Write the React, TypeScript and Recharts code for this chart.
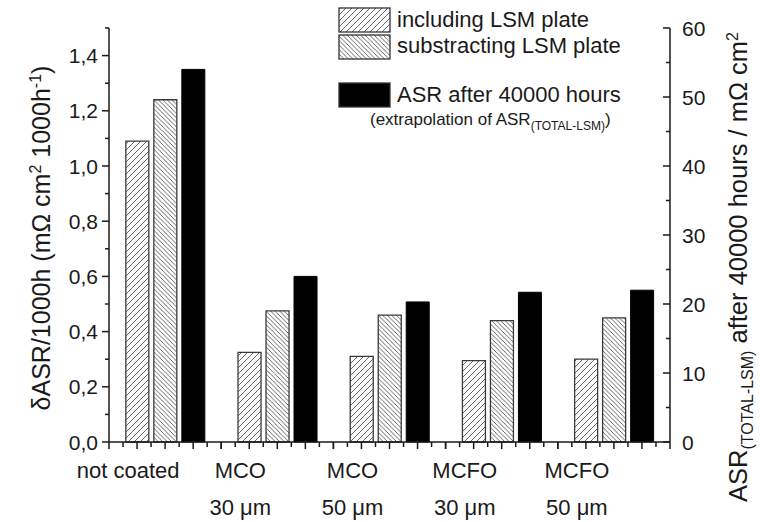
import React from 'react';
import { BarChart, Bar, XAxis, YAxis, Legend } from 'recharts';

const labelLine1 = ['not coated', 'MCO', 'MCO', 'MCFO', 'MCFO'];
const labelLine2 = ['', '30 μm', '50 μm', '30 μm', '50 μm'];
const categories = ['not coated', 'MCO 30 μm', 'MCO 50 μm', 'MCFO 30 μm', 'MCFO 50 μm'];
const includingLSM = [1.09, 0.325, 0.31, 0.295, 0.3];
const substractingLSM = [1.24, 0.475, 0.46, 0.44, 0.45];
const asr40000 = [54.0, 24.0, 20.3, 21.7, 22.0];
const seriesNames = ['including LSM plate', 'substracting LSM plate', 'ASR after 40000 hours'];

const leftTicks = [0, 0.1, 0.2, 0.3, 0.4, 0.5, 0.6, 0.7, 0.8, 0.9, 1.0, 1.1, 1.2, 1.3, 1.4, 1.5];
const rightTicks = [0, 5, 10, 15, 20, 25, 30, 35, 40, 45, 50, 55, 60];
// sub-divisions of each category band used for x-axis tick marks
const bandSubTicks = [-4, -3, -2, -1, 0, 1, 2, 3, 4];

const data = categories.map((c, i) => ({
  name: c,
  inc: includingLSM[i],
  sub: substractingLSM[i],
  asr: asr40000[i],
}));

const FONT = '"Liberation Sans", Arial, Helvetica, sans-serif';
const INK = '#1a1a1a';

const LeftTick = (props: any) => {
  const { x, y, payload } = props;
  const v = payload.value as number;
  const major = Math.round(v * 10) % 2 === 0;
  const len = major ? 7 : 4;
  return (
    <g>
      <line x1={x} y1={y} x2={x - len} y2={y} stroke={INK} strokeWidth={1.5} />
      {major && (
        <text x={x - 11} y={y} dy="0.36em" textAnchor="end" fontSize={21} fontFamily={FONT} fill={INK}>
          {v.toFixed(1).replace('.', ',')}
        </text>
      )}
    </g>
  );
};

const RightTick = (props: any) => {
  const { x, y, payload } = props;
  const v = payload.value as number;
  const major = v % 10 === 0;
  const len = major ? 7 : 4;
  return (
    <g>
      <line x1={x} y1={y} x2={x - len} y2={y} stroke={INK} strokeWidth={1.5} />
      {major && (
        <text x={x + 12} y={y} dy="0.36em" textAnchor="start" fontSize={21} fontFamily={FONT} fill={INK}>
          {String(v)}
        </text>
      )}
    </g>
  );
};

const CatTick = (props: any) => {
  const { x, y, index, width, visibleTicksCount } = props;
  const band = width / (visibleTicksCount || 5);
  const step = band / 8;
  const cx = x - 37;
  return (
    <g>
      {bandSubTicks.map((k) => (
        <line
          key={k}
          x1={x + k * step}
          y1={y}
          x2={x + k * step}
          y2={y + (k % 2 === 0 ? 7 : 5)}
          stroke={INK}
          strokeWidth={1.5}
        />
      ))}
      <text x={cx} y={y + 36} textAnchor="middle" fontSize={22} fontFamily={FONT} fill={INK}>
        {labelLine1[index]}
      </text>
      {labelLine2[index] ? (
        <text x={cx} y={y + 73} textAnchor="middle" fontSize={22} fontFamily={FONT} fill={INK}>
          {labelLine2[index]}
        </text>
      ) : null}
    </g>
  );
};

const LeftLabel = () => {
  const cx = 50;
  const cy = 238;
  return (
    <text x={cx} y={cy} transform={`rotate(-90, ${cx}, ${cy})`} textAnchor="middle" fontSize={25} fontFamily={FONT} fill={INK}>
      δASR/1000h (mΩ cm
      <tspan dy={-9} fontSize={16}>2</tspan>
      <tspan dy={9}> 1000h</tspan>
      <tspan dy={-9} fontSize={16}>-1</tspan>
      <tspan dy={9}>)</tspan>
    </text>
  );
};

const RightLabel = () => {
  const cx = 747;
  const cy = 267;
  return (
    <text x={cx} y={cy} transform={`rotate(-90, ${cx}, ${cy})`} textAnchor="middle" fontSize={25.5} fontFamily={FONT} fill={INK}>
      ASR
      <tspan dy={6} fontSize={16}>(TOTAL-LSM)</tspan>
      <tspan dy={-6}> after 40000 hours / mΩ cm</tspan>
      <tspan dy={-9} fontSize={16}>2</tspan>
    </text>
  );
};

const LegendContent = () => {
  const fills = ['url(#hatchFwd)', 'url(#hatchBack)', '#000'];
  const boxY = [8, 35, 83];
  const textY = [27, 53, 102];
  return (
    <svg width={340} height={135} style={{ display: 'block', overflow: 'visible' }}>
      {seriesNames.map((n, i) => (
        <g key={n}>
          <rect x={9} y={boxY[i]} width={51} height={24} fill={fills[i]} stroke="#333" strokeWidth={1.3} />
          <text x={67} y={textY[i]} fontSize={22} fontFamily={FONT} fill={INK}>{n}</text>
        </g>
      ))}
      <text x={40} y={125} fontSize={17} fontFamily={FONT} fill={INK}>
        (extrapolation of ASR
        <tspan dy={5} fontSize={12}>(TOTAL-LSM)</tspan>
        <tspan dy={-5} fontSize={17}>)</tspan>
      </text>
    </svg>
  );
};

export default function App() {
  return (
    <div style={{ position: 'absolute', left: 0, top: 0, width: 760, height: 522, background: '#fff' }}>
      <BarChart
        width={760}
        height={522}
        data={data}
        margin={{ top: 28, right: 0, left: 0, bottom: 79 }}
        barCategoryGap="15%"
        barGap={5}
      >
        <defs>
          <pattern id="hatchFwd" patternUnits="userSpaceOnUse" width={6} height={6}>
            <rect x={0} y={0} width={6} height={6} fill="#fff" />
            <path d="M-1.5,1.5 L1.5,-1.5 M0,6 L6,0 M4.5,7.5 L7.5,4.5" stroke="#555" strokeWidth={0.9} />
          </pattern>
          <pattern id="hatchBack" patternUnits="userSpaceOnUse" width={4.5} height={4.5}>
            <rect x={0} y={0} width={4.5} height={4.5} fill="#fff" />
            <path d="M-1.2,3.3 L1.2,5.7 M0,0 L4.5,4.5 M3.3,-1.2 L5.7,1.2" stroke="#555" strokeWidth={0.9} />
          </pattern>
        </defs>
        <XAxis
          xAxisId="cat"
          dataKey="name"
          height={1}
          axisLine={{ stroke: INK, strokeWidth: 1.5 }}
          tickLine={false}
          tickSize={0}
          tickMargin={0}
          interval={0}
          tick={<CatTick />}
        />
        <YAxis
          yAxisId="left"
          orientation="left"
          width={109}
          domain={[0, 1.5]}
          ticks={leftTicks}
          interval={0}
          axisLine={{ stroke: INK, strokeWidth: 1.5 }}
          tickLine={false}
          tickSize={0}
          tickMargin={0}
          tick={<LeftTick />}
          label={<LeftLabel />}
        />
        <YAxis
          yAxisId="right"
          orientation="right"
          width={90}
          domain={[0, 60]}
          ticks={rightTicks}
          interval={0}
          axisLine={{ stroke: INK, strokeWidth: 1.5 }}
          tickLine={false}
          tickSize={0}
          tickMargin={0}
          tick={<RightTick />}
          label={<RightLabel />}
        />
        <Legend
          layout="vertical"
          align="center"
          verticalAlign="middle"
          wrapperStyle={{ left: 330, top: 0, width: 340, height: 135 }}
          content={<LegendContent />}
        />
        <Bar xAxisId="cat" yAxisId="left" dataKey="inc" name={seriesNames[0]} fill="url(#hatchFwd)" stroke="#3a3a3a" strokeWidth={1.3} isAnimationActive={false} />
        <Bar xAxisId="cat" yAxisId="left" dataKey="sub" name={seriesNames[1]} fill="url(#hatchBack)" stroke="#3a3a3a" strokeWidth={1.3} isAnimationActive={false} />
        <Bar xAxisId="cat" yAxisId="right" dataKey="asr" name={seriesNames[2]} fill="#000" stroke="#000" strokeWidth={1} isAnimationActive={false} />
      </BarChart>
    </div>
  );
}
